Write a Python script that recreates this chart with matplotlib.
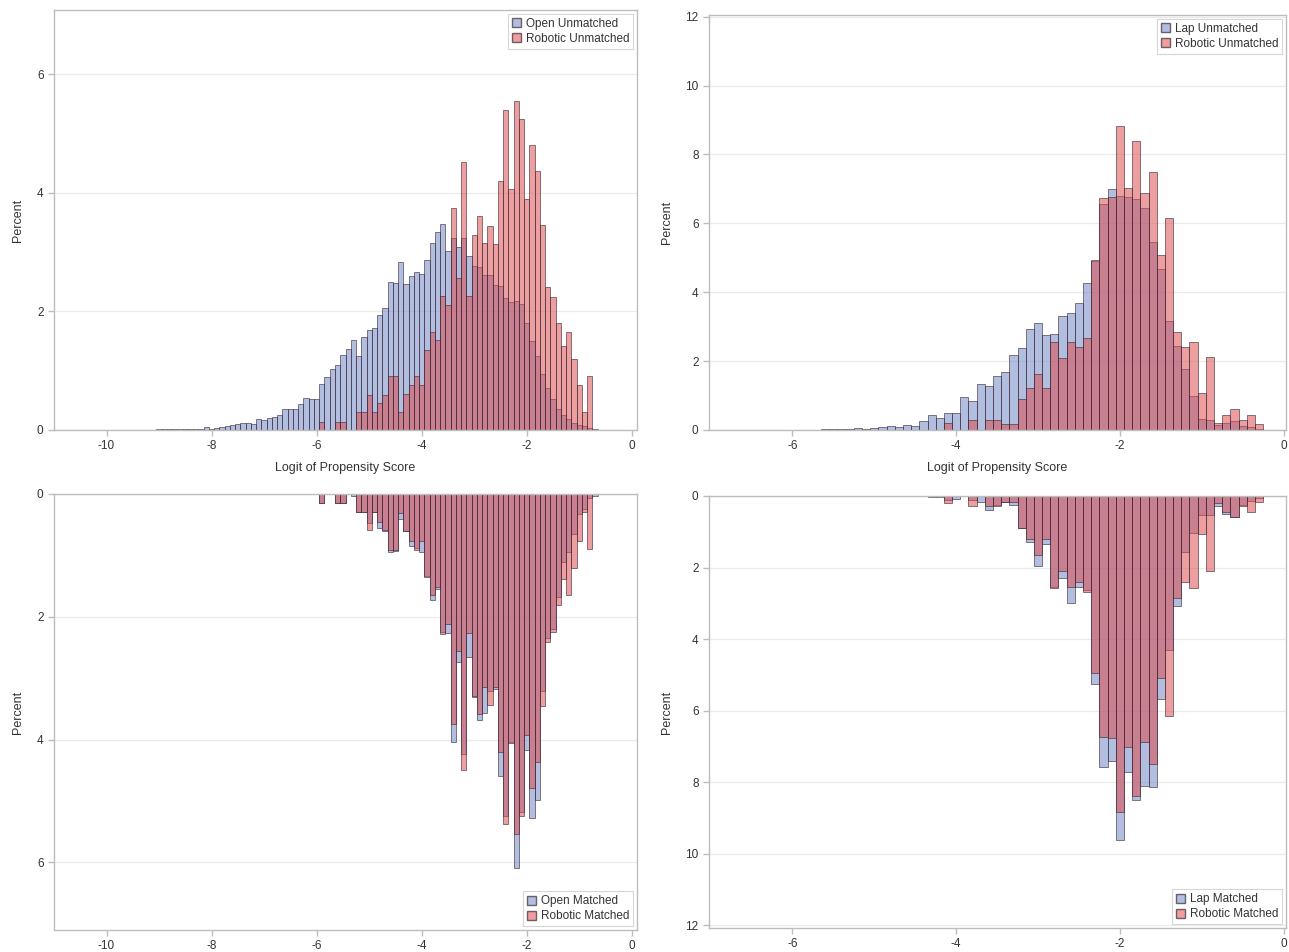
import numpy as np
import matplotlib
matplotlib.use("Agg")
import matplotlib.pyplot as plt
from matplotlib.patches import Patch

plt.rcParams["font.family"] = ["Liberation Sans", "DejaVu Sans"]
plt.rcParams["axes.unicode_minus"] = False

# ---- data: percent per 0.1-wide bin of the logit propensity score (bin midpoints) ----
# Open vs Robotic
open_unm_bins = np.round(np.arange(-9.0, -0.65, 0.1), 1)
open_unm = [0.01, 0.01, 0.01, 0.02, 0.02, 0.02, 0.01, 0.01, 0.01, 0.05,
            0.02, 0.04, 0.05, 0.07, 0.08, 0.10, 0.11, 0.12, 0.10, 0.18,
            0.17, 0.21, 0.22, 0.25, 0.35, 0.36, 0.36, 0.44, 0.54, 0.53,
            0.53, 0.77, 0.90, 1.02, 1.09, 1.26, 1.36, 1.51, 1.24, 1.56,
            1.69, 1.72, 1.94, 2.06, 2.49, 2.47, 2.83, 2.46, 2.59, 2.67,
            2.63, 2.87, 3.16, 3.33, 3.48, 3.01, 3.23, 3.08, 3.23, 2.94,
            2.76, 2.75, 2.62, 2.62, 2.45, 2.43, 2.22, 2.16, 2.18, 2.12,
            1.80, 1.50, 1.25, 0.95, 0.70, 0.52, 0.36, 0.26, 0.18, 0.12,
            0.09, 0.07, 0.04, 0.02]
rob1_unm_bins = np.round(np.arange(-5.9, -0.75, 0.1), 1)
rob1_unm = [0.14, 0, 0, 0.14, 0.14, 0, 0, 0.30, 0.30, 0.59,
            0.30, 0.45, 0.59, 0.91, 0.91, 0.31, 0.61, 0.76, 0.91, 0.76,
            1.35, 1.65, 1.51, 2.26, 2.11, 3.75, 2.56, 4.51, 2.26, 3.29,
            3.60, 3.15, 3.44, 3.14, 4.20, 5.40, 4.06, 5.55, 5.25, 3.90,
            4.80, 4.37, 3.45, 2.41, 2.25, 1.80, 1.41, 1.65, 1.19, 0.76,
            0.31, 0.91]
open_m_bins = np.round(np.arange(-5.9, -0.65, 0.1), 1)
open_m = [0.14, 0, 0, 0.14, 0.14, 0, 0.04, 0.30, 0.30, 0.48,
          0.30, 0.55, 0.60, 0.94, 0.93, 0.40, 0.60, 0.85, 0.88, 0.94,
          1.33, 1.73, 1.55, 2.25, 2.27, 4.04, 2.73, 4.23, 2.65, 3.30,
          3.68, 3.57, 3.20, 3.18, 4.60, 5.25, 4.04, 6.09, 5.18, 4.17,
          5.27, 4.99, 3.20, 2.35, 2.20, 1.68, 1.10, 0.95, 0.65, 0.33,
          0.25, 0.07, 0.03]
rob1_m_bins = np.round(np.arange(-5.9, -0.75, 0.1), 1)
rob1_m = [0.14, 0, 0, 0.14, 0.14, 0, 0, 0.30, 0.30, 0.59,
          0.30, 0.45, 0.59, 0.91, 0.91, 0.31, 0.61, 0.76, 0.91, 0.76,
          1.35, 1.65, 1.51, 2.28, 2.11, 3.75, 2.56, 4.50, 2.26, 3.29,
          3.58, 3.15, 3.43, 3.14, 4.20, 5.37, 4.05, 5.53, 5.25, 3.92,
          4.78, 4.37, 3.45, 2.41, 2.25, 1.80, 1.38, 1.65, 1.20, 0.76,
          0.30, 0.90]

# Lap vs Robotic
lap_unm_bins = np.round(np.arange(-5.6, -0.25, 0.1), 1)
lap_unm = [0.02, 0.03, 0.02, 0.04, 0.05, 0.04, 0.06, 0.09, 0.12, 0.09,
           0.15, 0.13, 0.27, 0.44, 0.34, 0.48, 0.48, 0.97, 0.84, 1.33,
           1.29, 1.58, 1.68, 2.17, 2.39, 2.93, 3.10, 2.76, 2.78, 3.31,
           3.39, 3.68, 4.28, 4.90, 6.55, 7.00, 6.80, 6.76, 6.70, 6.45,
           5.47, 4.67, 3.17, 2.43, 1.77, 0.98, 0.33, 0.30, 0.15, 0.20,
           0.25, 0.12, 0.08, 0.03]
rob2_unm_bins = np.round(np.arange(-4.1, -0.25, 0.1), 1)
rob2_unm = [0.19, 0, 0, 0.28, 0, 0.28, 0.28, 0.16, 0.16, 0.90,
            1.21, 1.64, 1.21, 2.56, 2.10, 2.55, 2.40, 2.68, 4.94, 6.73,
            6.77, 8.83, 7.02, 8.38, 6.88, 7.49, 5.08, 6.15, 2.86, 2.41,
            2.56, 1.07, 2.11, 0.20, 0.45, 0.60, 0.28, 0.45, 0.16]
lap_m_bins = np.round(np.arange(-4.3, -0.25, 0.1), 1)
lap_m = [0.03, 0.03, 0.10, 0.07, 0, 0.10, 0.16, 0.39, 0.25, 0.16,
         0.25, 0.90, 1.30, 1.95, 1.33, 2.55, 2.28, 2.99, 2.54, 2.63,
         5.27, 7.57, 7.42, 9.63, 7.73, 8.50, 8.10, 8.13, 5.67, 4.32,
         3.08, 1.56, 1.04, 0.53, 0.53, 0.28, 0.50, 0.58, 0.25, 0.15,
         0.05]
rob2_m_bins = np.round(np.arange(-4.1, -0.25, 0.1), 1)
rob2_m = [0.19, 0, 0, 0.28, 0, 0.28, 0.28, 0.16, 0.16, 0.90,
          1.21, 1.64, 1.21, 2.56, 2.10, 2.55, 2.40, 2.68, 4.94, 6.73,
          6.77, 8.83, 7.02, 8.38, 6.88, 7.49, 5.08, 6.15, 2.86, 2.41,
          2.56, 1.07, 2.11, 0.20, 0.45, 0.60, 0.28, 0.45, 0.16]

# ---- style ----
BLUE = (95 / 255, 120 / 255, 192 / 255, 0.48)
RED = (222 / 255, 72 / 255, 74 / 255, 0.52)
EDGE = (0.22, 0.16, 0.22, 0.7)
TXT = "#333333"
FRAME = "#BDBDBD"
W, H = 1289, 952


def rect(l, t, r, b):
    return [l / W, 1 - b / H, (r - l) / W, (b - t) / H]


def panel(ax, blue, red, labels, xlim, ylim, xticks, yticks, leg_loc, xlabel):
    for spine in ax.spines.values():
        spine.set_color(FRAME)
        spine.set_linewidth(1.0)
    ax.set_axisbelow(True)
    ax.yaxis.grid(True, color="#EBEBEB", linewidth=0.9)
    ax.bar(blue[0], blue[1], width=0.1, facecolor=BLUE, edgecolor=EDGE, linewidth=0.6)
    ax.bar(red[0], red[1], width=0.1, facecolor=RED, edgecolor=EDGE, linewidth=0.6)
    ax.set_xlim(*xlim)
    ax.set_ylim(*ylim)
    ax.set_xticks(xticks)
    ax.set_yticks(yticks)
    ax.tick_params(colors=FRAME, labelcolor=TXT, labelsize=8.5, length=4, width=1)
    ax.set_ylabel("Percent", color=TXT, fontsize=9, labelpad=9)
    if xlabel:
        ax.set_xlabel(xlabel, color=TXT, fontsize=9, labelpad=7)
    handles = [Patch(facecolor=BLUE, edgecolor=EDGE), Patch(facecolor=RED, edgecolor=EDGE)]
    leg = ax.legend(handles, labels, loc=leg_loc, fontsize=8.5, frameon=True, fancybox=False,
                    handlelength=0.8, handleheight=0.8, handletextpad=0.4, borderpad=0.35,
                    labelspacing=0.25, borderaxespad=0.3)
    leg.get_frame().set_edgecolor("#CCCCCC")
    leg.get_frame().set_linewidth(0.8)
    for t in leg.get_texts():
        t.set_color(TXT)


fig = plt.figure(figsize=(W / 100, H / 100), dpi=100)
fig.patch.set_facecolor("white")

ax_tl = fig.add_axes(rect(54, 10, 637, 430))
panel(ax_tl, (open_unm_bins, open_unm), (rob1_unm_bins, rob1_unm),
      ["Open Unmatched", "Robotic Unmatched"], (-11.0, 0.1), (0, 7.08),
      [-10, -8, -6, -4, -2, 0], [0, 2, 4, 6], "upper right", "Logit of Propensity Score")

ax_tr = fig.add_axes(rect(709, 15, 1286, 430))
panel(ax_tr, (lap_unm_bins, lap_unm), (rob2_unm_bins, rob2_unm),
      ["Lap Unmatched", "Robotic Unmatched"], (-7.02, 0.03), (0, 12.05),
      [-6, -4, -2, 0], [0, 2, 4, 6, 8, 10, 12], "upper right", "Logit of Propensity Score")

ax_bl = fig.add_axes(rect(54, 494, 637, 930))
panel(ax_bl, (open_m_bins, open_m), (rob1_m_bins, rob1_m),
      ["Open Matched", "Robotic Matched"], (-11.0, 0.1), (7.1, 0),
      [-10, -8, -6, -4, -2, 0], [0, 2, 4, 6], "lower right", None)

ax_br = fig.add_axes(rect(709, 496, 1286, 928))
panel(ax_br, (lap_m_bins, lap_m), (rob2_m_bins, rob2_m),
      ["Lap Matched", "Robotic Matched"], (-7.02, 0.03), (12.08, 0),
      [-6, -4, -2, 0], [0, 2, 4, 6, 8, 10, 12], "lower right", None)

fig.savefig("out.png", dpi=100)
plt.close(fig)
